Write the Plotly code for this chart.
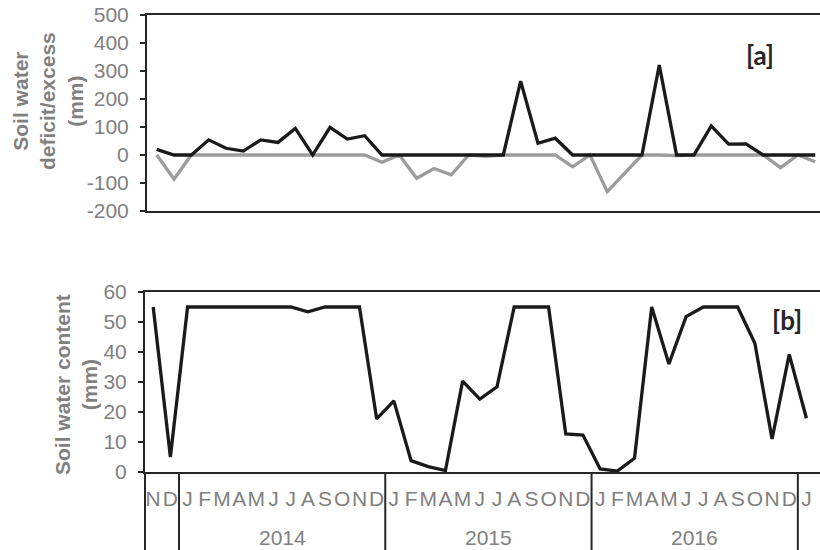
import plotly.graph_objects as go

# ---- data ----
month_labels = ["N", "D",
                "J", "F", "M", "A", "M", "J", "J", "A", "S", "O", "N", "D",
                "J", "F", "M", "A", "M", "J", "J", "A", "S", "O", "N", "D",
                "J", "F", "M", "A", "M", "J", "J", "A", "S", "O", "N", "D",
                "J"]
year_labels = ["2014", "2015", "2016"]
year_centers = [7.5, 19.5, 31.5]
year_bounds = [1.5, 13.5, 25.5, 37.5]

a_tickvals = [-200, -100, 0, 100, 200, 300, 400, 500]
a_ticktext = ["-200", "-100", "0", "100", "200", "300", "400", "500"]
b_tickvals = [0, 10, 20, 30, 40, 50, 60]
b_ticktext = ["0", "10", "20", "30", "40", "50", "60"]

excess = [20, 0, 0, 54, 24, 14, 54, 45, 95, 0, 99, 57, 69, 0,
          0, 0, 0, 0, 0, 0, 0, 264, 42, 60, 0, 0, 0, 0, 0,
          321, 0, 0, 104, 39, 40, 0, 0, 0, 0]
deficit = [0, -86, 0, 0, 0, 0, 0, 0, 0, 0, 0, 0, 0, -26,
           0, -83, -48, -71, 0, -5, 0, 0, 0, 0, -42, 0, -131, -65, 0,
           0, -2, 0, 0, 0, 0, 0, -45, 0, -24]
content = [55, 5, 55, 55, 55, 55, 55, 55, 55, 53.4, 55, 55, 55,
           17.7, 23.7, 3.8, 1.8, 0.5, 30.3, 24.3, 28.4,
           55, 55, 55, 12.7, 12.3, 1, 0.3, 4.6,
           55, 36, 51.8, 55, 55, 55, 42.9, 11, 39.2, 17.9]

idx = list(range(len(month_labels)))

W, H = 820, 550
def px(x): return x / W
def py(y): return 1 - y / H

AX = "#262626"
GRAY_TXT = "#808080"
FONT = "Liberation Sans, Arial, sans-serif"
FS = 21

fig = go.Figure()
fig.add_trace(go.Scatter(x=idx, y=deficit, mode="lines",
                         line=dict(color="#9c9c9c", width=3.3),
                         xaxis="x", yaxis="y", showlegend=False))
fig.add_trace(go.Scatter(x=idx, y=excess, mode="lines",
                         line=dict(color="#1a1a1a", width=3.3),
                         xaxis="x", yaxis="y", showlegend=False))
fig.add_trace(go.Scatter(x=idx, y=content, mode="lines",
                         line=dict(color="#1a1a1a", width=3.3),
                         xaxis="x2", yaxis="y2", showlegend=False))

# panel a x scale
a_left, a_first, a_step = 147, 156.7, 17.33
a_r0 = -(a_first - a_left) / a_step
a_r1 = a_r0 + (W - a_left) / a_step
# panel b x scale
b_left, b_first, b_step = 145, 153.2, 17.19
b_r0 = -(b_first - b_left) / b_step
b_r1 = b_r0 + (W - b_left) / b_step

yax_common = dict(showgrid=False, zeroline=False, showline=True, linecolor=AX,
                  linewidth=2, ticks="outside", ticklen=5, tickwidth=2,
                  tickcolor=AX, ticklabelstandoff=7, automargin=False,
                  tickmode="array",
                  tickfont=dict(family=FONT, size=FS, color=GRAY_TXT))

fig.update_layout(
    width=W, height=H,
    margin=dict(l=0, r=0, t=0, b=0, autoexpand=False),
    paper_bgcolor="white", plot_bgcolor="white",
    xaxis=dict(domain=[px(a_left), 1], range=[a_r0, a_r1], showgrid=False,
               zeroline=False, showline=True, mirror=True, linecolor=AX,
               linewidth=2, showticklabels=False, ticks="", anchor="y",
               automargin=False),
    yaxis=dict(domain=[py(211), py(15)], range=[-200, 500],
               tickvals=a_tickvals, ticktext=a_ticktext,
               anchor="x", **yax_common),
    xaxis2=dict(domain=[px(b_left), 1], range=[b_r0, b_r1], showgrid=False,
                zeroline=False, showline=True, mirror=True, linecolor=AX,
                linewidth=2, ticks="", tickmode="array", tickvals=idx,
                ticktext=month_labels, ticklabelstandoff=7, tickangle=0,
                automargin=False,
                tickfont=dict(family=FONT, size=FS, color=GRAY_TXT),
                anchor="y2"),
    yaxis2=dict(domain=[py(472), py(292)], range=[0, 60],
                tickvals=b_tickvals, ticktext=b_ticktext,
                anchor="x2", **yax_common),
)

annotations = [
    dict(text="<b>Soil water<br>deficit/excess<br>(mm)</b>", textangle=-90,
         xref="paper", yref="paper", x=px(48), y=py(101), showarrow=False,
         xanchor="center", yanchor="middle",
         font=dict(family=FONT, size=FS, color=GRAY_TXT)),
    dict(text="<b>Soil water content<br>(mm)</b>", textangle=-90,
         xref="paper", yref="paper", x=px(76), y=py(385), showarrow=False,
         xanchor="center", yanchor="middle",
         font=dict(family=FONT, size=FS, color=GRAY_TXT)),
    dict(text="<b>[a]</b>", xref="paper", yref="paper", x=px(760), y=py(55),
         showarrow=False, xanchor="center", yanchor="middle",
         font=dict(family="Lato, Open Sans, sans-serif", size=26, color=AX)),
    dict(text="<b>[b]</b>", xref="paper", yref="paper", x=px(787), y=py(320),
         showarrow=False, xanchor="center", yanchor="middle",
         font=dict(family="Lato, Open Sans, sans-serif", size=26, color=AX)),
]
for yl, xc in zip(year_labels, year_centers):
    annotations.append(dict(text=yl, xref="x2", yref="paper", x=xc, y=py(537),
                            showarrow=False, xanchor="center", yanchor="middle",
                            font=dict(family=FONT, size=FS, color=GRAY_TXT)))
fig.update_layout(annotations=annotations)

shapes = []
for b in year_bounds:
    shapes.append(dict(type="line", xref="x2", yref="paper", x0=b, x1=b,
                       y0=py(472), y1=0, line=dict(color=AX, width=2)))
shapes.append(dict(type="line", xref="paper", yref="paper", x0=px(b_left),
                   x1=px(b_left), y0=py(472), y1=0, line=dict(color=AX, width=2)))
fig.update_layout(shapes=shapes)

fig.write_html("out.html", config={"displayModeBar": False},
               post_script="document.body.style.margin='0';"
                           "document.body.style.overflow='hidden';")
